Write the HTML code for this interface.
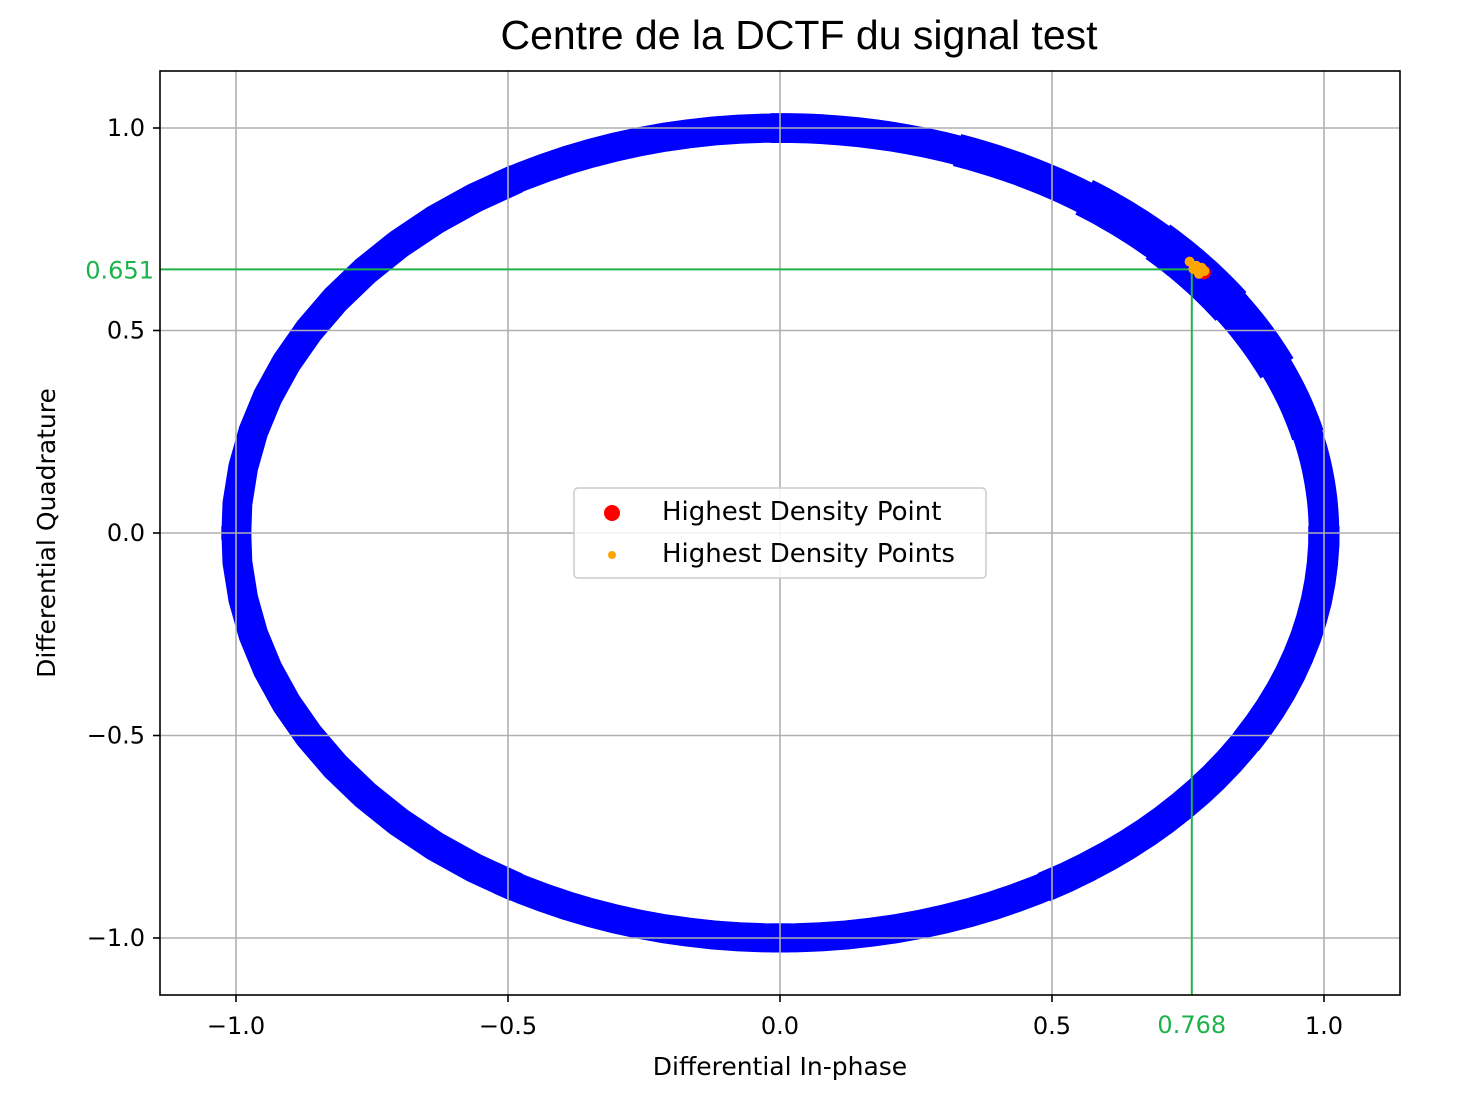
<!DOCTYPE html>
<html><head><meta charset="utf-8"><style>
body{margin:0;background:#fff;}
svg text{font-family:"DejaVu Sans","Liberation Sans",sans-serif;}
</style></head><body>
<svg id="chart" width="1459" height="1092" xmlns="http://www.w3.org/2000/svg">
<rect width="1459" height="1092" fill="#fff"/>
<text x="799" y="49" text-anchor="middle" font-size="41" style="font-family:'Liberation Sans',sans-serif">Centre de la DCTF du signal test</text>
<g id="ring"></g>
<g id="grid"></g>
<g id="marks"></g>
<rect x="160" y="71" width="1240" height="924" fill="none" stroke="#000" stroke-width="1.6"/>
<g id="ticks"></g>
<text x="780" y="1075" text-anchor="middle" font-size="25">Differential In-phase</text>
<text transform="translate(55,533) rotate(-90)" text-anchor="middle" font-size="25">Differential Quadrature</text>
<g>
<rect x="574" y="488" width="412" height="90" rx="4" fill="#fff" fill-opacity="0.85" stroke="#ccc" stroke-width="1.5"/>
<circle cx="612" cy="513" r="8" fill="red"/>
<text x="662" y="520" font-size="26">Highest Density Point</text>
<circle cx="612" cy="555" r="4" fill="orange"/>
<text x="662" y="562" font-size="26">Highest Density Points</text>
</g>
</svg>
<script>
const xTicks=[-1.0,-0.5,0.0,0.5,1.0];
const yTicks=[-1.0,-0.5,0.0,0.5,1.0];
const xTickLabels=["\u22121.0","\u22120.5","0.0","0.5","1.0"];
const yTickLabels=["\u22121.0","\u22120.5","0.0","0.5","1.0"];
const ringRadius=[1.0];
const bandAngles=[0,15,25,35,45,55,70,90,120,180,240,270,300,330,360];
const bandWidth=[0.065,0.065,0.075,0.09,0.09,0.075,0.065,0.062,0.062,0.065,0.062,0.062,0.062,0.068,0.065];
const peakPoint=[0.768,0.651];
const clusterX=[0.753,0.765,0.775,0.78,0.77,0.76];
const clusterY=[0.67,0.66,0.655,0.647,0.64,0.652];
const peakLabels=["0.768","0.651"];
const X=v=>780+v*544, Y=v=>533-v*405;
const NS="http://www.w3.org/2000/svg";
function mk(t,a,p){const e=document.createElementNS(NS,t);for(const k in a)e.setAttribute(k,a[k]);p.appendChild(e);return e;}
const ring=document.getElementById('ring');
for(let i=0;i<bandAngles.length-1;i++){
  const a0=(bandAngles[i]-1)*Math.PI/180,a1=(bandAngles[i+1]+1)*Math.PI/180;
  const r=ringRadius[0];
  const w=(bandWidth[i]+bandWidth[i+1])/2*470;
  let d="";
  for(let s=0;s<=12;s++){const a=a0+(a1-a0)*s/12;d+=(s?"L":"M")+X(r*Math.cos(a)).toFixed(1)+","+Y(r*Math.sin(a)).toFixed(1);}
  const p=mk('path',{d:d,fill:'none',stroke:'#0000ff','stroke-width':w,'stroke-linecap':'butt','stroke-linejoin':'round'},ring);
  
  
}
const grid=document.getElementById('grid'),ticks=document.getElementById('ticks');
xTicks.forEach((v,i)=>{
  const l=mk('line',{x1:X(v),x2:X(v),y1:71,y2:995,stroke:'#b0b0b0','stroke-width':1.6},grid);
  
  mk('line',{x1:X(v),x2:X(v),y1:995,y2:1002,stroke:'#000','stroke-width':1.6},ticks);
  const t=mk('text',{x:X(v),y:1034,'text-anchor':'middle','font-size':24},ticks);t.textContent=xTickLabels[i];
  
});
yTicks.forEach((v,i)=>{
  const l=mk('line',{x1:160,x2:1400,y1:Y(v),y2:Y(v),stroke:'#b0b0b0','stroke-width':1.6},grid);
  
  mk('line',{x1:153,x2:160,y1:Y(v),y2:Y(v),stroke:'#000','stroke-width':1.6},ticks);
  const t=mk('text',{x:145,y:Y(v)+8,'text-anchor':'end','font-size':24},ticks);t.textContent=yTickLabels[i];
  
});
const marks=document.getElementById('marks');
const px=X(peakPoint[0])-6, py=Y(peakPoint[1]);
const hl=mk('line',{x1:160,x2:px,y1:py,y2:py,stroke:'#1db34a','stroke-width':2},marks);

const vl=mk('line',{x1:px,x2:px,y1:py,y2:995,stroke:'#1db34a','stroke-width':2},marks);

const rp=mk('circle',{cx:X(peakPoint[0])+6,cy:py+3,r:7,fill:'red'},marks);

clusterX.forEach((v,i)=>{const c=mk('circle',{cx:X(v),cy:Y(clusterY[i]),r:5,fill:'orange'},marks);
  });
const tx=mk('text',{x:px,y:1033,'text-anchor':'middle','font-size':24,fill:'#1db34a'},marks);tx.textContent=peakLabels[0];

const ty=mk('text',{x:154,y:py+9,'text-anchor':'end','font-size':24,fill:'#1db34a'},marks);ty.textContent=peakLabels[1];

</script>
</body></html>
